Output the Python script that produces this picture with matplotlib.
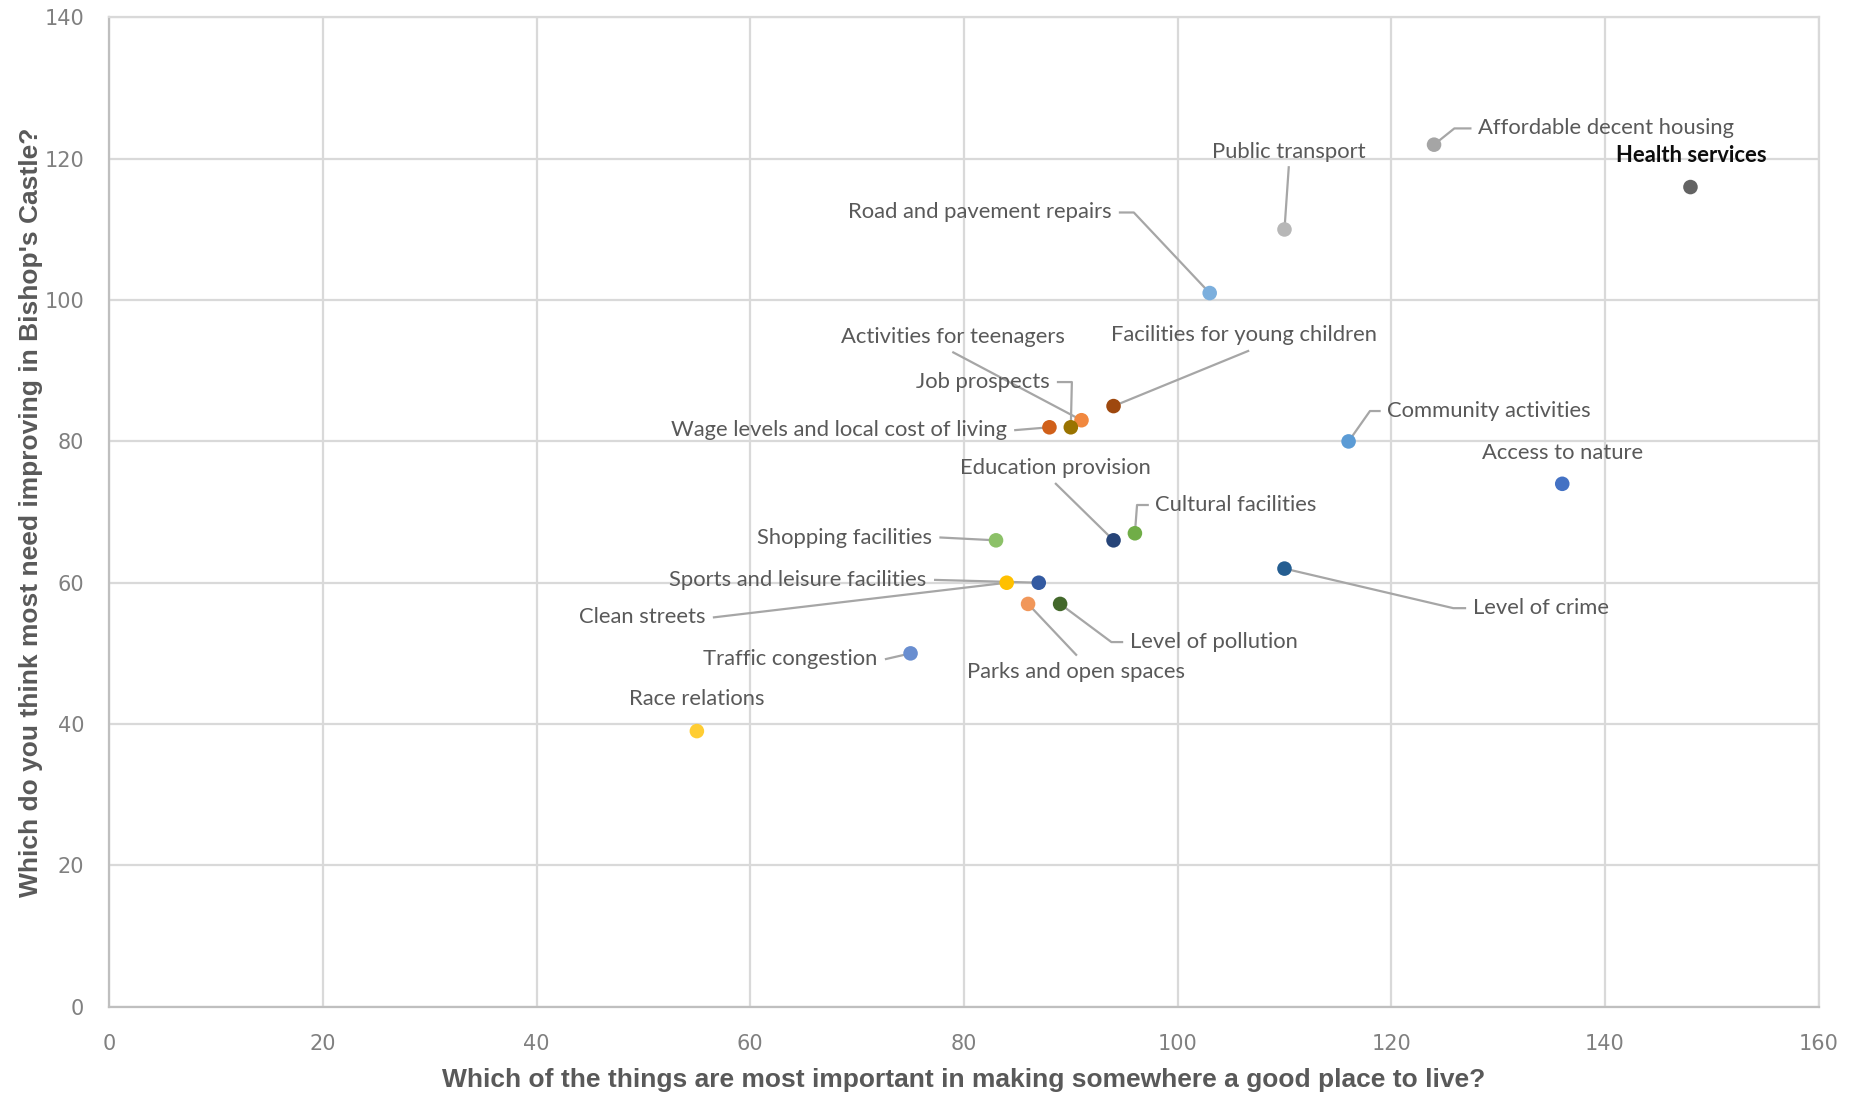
import matplotlib
matplotlib.use('Agg')
import matplotlib.pyplot as plt

# survey items
items = ['Health services', 'Affordable decent housing', 'Public transport',
         'Road and pavement repairs', 'Community activities', 'Access to nature',
         'Level of crime', 'Facilities for young children', 'Activities for teenagers',
         'Job prospects', 'Wage levels and local cost of living', 'Education provision',
         'Cultural facilities', 'Shopping facilities', 'Sports and leisure facilities',
         'Clean streets', 'Parks and open spaces', 'Level of pollution',
         'Traffic congestion', 'Race relations']
important = [148, 124, 110, 103, 116, 136, 110, 94, 91, 90, 88, 94, 96, 83, 87, 84, 86, 89, 75, 55]
improve = [116, 122, 110, 101, 80, 74, 62, 85, 83, 82, 82, 66, 67, 66, 60, 60, 57, 57, 50, 39]

colors = ['#636363', '#A5A5A5', '#B7B7B7', '#7CAFDD', '#5B9BD5', '#4472C4',
          '#255E91', '#9E480E', '#F1883F', '#997300', '#D0601A', '#264478',
          '#70AD47', '#8CC168', '#335AA1', '#FFC000', '#F1975A', '#43682B',
          '#698ED0', '#FFCD33']

# label layout: (text x, text y, ha, stub, has_leader)
layout = {
    'Health services': (148.1, 120.5, 'center', 0, False),
    'Affordable decent housing': (128.1, 124.3, 'left', -1.5, True),
    'Public transport': (110.4, 121.0, 'center', 0, True),
    'Road and pavement repairs': (93.8, 112.4, 'right', 1.3, True),
    'Community activities': (119.6, 84.3, 'left', -0.9, True),
    'Access to nature': (136.0, 78.4, 'center', 0, False),
    'Level of crime': (127.6, 56.4, 'left', -1.1, True),
    'Facilities for young children': (93.8, 95.0, 'left', 0, True),
    'Activities for teenagers': (79.0, 94.8, 'center', 0, True),
    'Job prospects': (88.0, 88.4, 'right', 1.3, True),
    'Wage levels and local cost of living': (84.0, 81.6, 'right', 0, True),
    'Education provision': (88.6, 76.2, 'center', 0, True),
    'Cultural facilities': (97.9, 71.0, 'left', -1.0, True),
    'Shopping facilities': (77.0, 66.4, 'right', 0, True),
    'Sports and leisure facilities': (76.5, 60.4, 'right', 0, True),
    'Clean streets': (55.8, 55.1, 'right', 0, True),
    'Parks and open spaces': (90.5, 47.4, 'center', 0, True),
    'Level of pollution': (95.5, 51.6, 'left', -1.0, True),
    'Traffic congestion': (71.9, 49.2, 'right', 0, True),
    'Race relations': (55.0, 43.6, 'center', 0, False),
}

plt.rcParams['font.family'] = ['Lato', 'DejaVu Sans']

fig = plt.figure(figsize=(18.52, 10.93), dpi=100)
ax = fig.add_axes([0.059, 0.079, 0.923, 0.905])

ax.set_xlim(0, 160)
ax.set_ylim(0, 140)
ax.set_xticks(range(0, 161, 20))
ax.set_yticks(range(0, 141, 20))
ax.grid(True, color='#D9D9D9', linewidth=1.6)
ax.set_axisbelow(True)
for s in ax.spines.values():
    s.set_color('#D9D9D9')
    s.set_linewidth(1.6)
ax.spines['left'].set_color('#BFBFBF')
ax.spines['bottom'].set_color('#BFBFBF')
ax.tick_params(length=0, labelsize=15, labelcolor='#808080')
ax.tick_params(axis='x', pad=20)
ax.tick_params(axis='y', pad=18)
for t in ax.get_xticklabels() + ax.get_yticklabels():
    t.set_family(['DejaVu Sans'])

ax.scatter(important, improve, s=110, c=colors, zorder=4, linewidths=0)

lead = '#A6A6A6'
for name, x, y in zip(items, important, improve):
    tx, ty, ha, stub, leader = layout[name]
    bold = name == 'Health services'
    ax.text(tx, ty, name, ha=ha, va='center', fontsize=15.8,
            color='#0D0D0D' if bold else '#595959',
            fontweight='bold' if bold else 'normal', zorder=5)
    if not leader:
        continue
    # leader start just outside the label
    if ha == 'right':
        sx, sy = tx + 0.8, ty
    elif ha == 'left':
        sx, sy = tx - 0.7, ty
    else:
        sx, sy = tx, ty + (-2.2 if ty > y else 2.4)
    if name == 'Facilities for young children':
        sx, sy = tx + 12.8, ty - 2.2
    if name == 'Activities for teenagers':
        sx, sy = tx, ty - 2.2
    xs, ys = [sx], [sy]
    if stub:
        xs.append(sx + stub)
        ys.append(sy)
    xs.append(x)
    ys.append(y)
    ax.plot(xs, ys, color=lead, linewidth=1.6, zorder=3)

ax.set_xlabel('Which of the things are most important in making somewhere a good place to live?',
              fontsize=19, fontweight='bold', color='#595959', labelpad=10,
              family=['Liberation Sans', 'DejaVu Sans'])
ax.set_ylabel("Which do you think most need improving in Bishop's Castle?",
              fontsize=19, fontweight='bold', color='#595959', labelpad=1,
              family=['Liberation Sans', 'DejaVu Sans'])

fig.savefig('out.png', dpi=100)
